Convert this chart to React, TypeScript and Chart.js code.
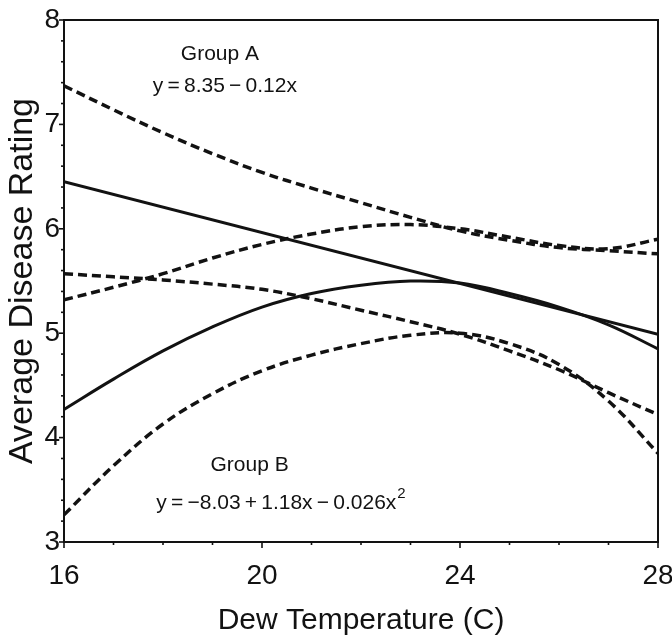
import React, { useEffect, useRef } from "react";
import { Chart, registerables } from "chart.js";

Chart.register(...registerables);

// Dew temperature (C)
const dewTemps = [16, 17, 18, 19, 20, 21, 22, 23, 24, 25, 26, 27, 28];

// Group A: linear fit and confidence band
const groupAFitX = [16, 28];
const groupAFitY = [6.45, 4.99];
const groupAUpper = [7.37, 7.14, 6.92, 6.72, 6.54, 6.39, 6.25, 6.11, 5.98, 5.89, 5.82, 5.79, 5.76];
const groupALower = [5.57, 5.54, 5.51, 5.47, 5.42, 5.33, 5.22, 5.11, 4.99, 4.83, 4.65, 4.43, 4.22];

// Group B: quadratic fit and confidence band
const groupBFit = [4.27, 4.56, 4.83, 5.06, 5.25, 5.38, 5.46, 5.5, 5.48, 5.38, 5.25, 5.08, 4.85];
const groupBUpper = [5.32, 5.44, 5.57, 5.72, 5.85, 5.95, 6.02, 6.04, 6.0, 5.92, 5.84, 5.81, 5.9];
const groupBLower = [3.26, 3.73, 4.13, 4.42, 4.64, 4.79, 4.9, 4.98, 5.0, 4.9, 4.7, 4.35, 3.85];

// Axis labels
const xTickLabels = [16, 20, 24, 28];
const yTickLabels = [3, 4, 5, 6, 7, 8];

const FONT = "'Liberation Sans', Arial, Helvetica, sans-serif";
const INK = "#121212";
const TS = "\u2009";

const isWhole = (v: number) => Math.abs(v - Math.round(v)) < 1e-6;

const framePlugin = {
  id: "frameAndNotes",
  afterDraw(chart: any) {
    const { ctx, chartArea: a, scales } = chart;
    const x = scales.x;
    const y = scales.y;
    ctx.save();
    ctx.strokeStyle = INK;
    ctx.lineWidth = 2;
    ctx.strokeRect(a.left, a.top, a.right - a.left, a.bottom - a.top);

    ctx.lineWidth = 1.6;
    y.ticks.forEach((t: any) => {
      const py = y.getPixelForValue(t.value);
      const major = yTickLabels.some((v) => Math.abs(v - t.value) < 1e-6);
      ctx.beginPath();
      ctx.moveTo(a.left, py);
      ctx.lineTo(a.left - (major ? 5 : 3), py);
      ctx.stroke();
    });
    x.ticks.forEach((t: any) => {
      const px = x.getPixelForValue(t.value);
      const major = xTickLabels.some((v) => Math.abs(v - t.value) < 1e-6);
      ctx.beginPath();
      ctx.moveTo(px, a.bottom);
      ctx.lineTo(px, a.bottom + (major ? 6 : 3));
      ctx.stroke();
    });

    // Annotations
    ctx.fillStyle = INK;
    ctx.textBaseline = "middle";
    ctx.textAlign = "center";
    ctx.font = `21px ${FONT}`;
    ctx.fillText("Group A", x.getPixelForValue(19.15), y.getPixelForValue(7.67));
    ctx.fillText(`y${TS}=${TS}8.35${TS}\u2212${TS}0.12x`, x.getPixelForValue(19.25), y.getPixelForValue(7.37));
    ctx.fillText("Group B", x.getPixelForValue(19.75), y.getPixelForValue(3.74));

    const eq = `y${TS}=${TS}\u22128.03${TS}+${TS}1.18x${TS}\u2212${TS}0.026x`;
    const w = ctx.measureText(eq).width;
    const cx = x.getPixelForValue(20.4);
    const cy = y.getPixelForValue(3.37);
    ctx.textAlign = "left";
    const left = cx - (w + 11) / 2;
    ctx.fillText(eq, left, cy);
    ctx.font = `15px ${FONT}`;
    ctx.fillText("2", left + w + 1, cy - 10);
    ctx.restore();
  },
};

const toPoints = (xs: number[], ys: number[]) => xs.map((v, i) => ({ x: v, y: ys[i] }));

export default function App() {
  const canvasRef = useRef<HTMLCanvasElement | null>(null);

  useEffect(() => {
    const canvas = canvasRef.current;
    if (!canvas) return;

    const solid = { borderColor: INK, borderWidth: 3, pointRadius: 0, tension: 0.4, fill: false };
    const dashed = { ...solid, borderWidth: 3.5, borderDash: [9, 5] };

    const chart = new Chart(canvas, {
      type: "line",
      data: {
        datasets: [
          { ...solid, label: "Group A fit", data: toPoints(groupAFitX, groupAFitY), tension: 0 },
          { ...dashed, label: "Group A upper", data: toPoints(dewTemps, groupAUpper) },
          { ...dashed, label: "Group A lower", data: toPoints(dewTemps, groupALower) },
          { ...solid, label: "Group B fit", data: toPoints(dewTemps, groupBFit) },
          { ...dashed, label: "Group B upper", data: toPoints(dewTemps, groupBUpper) },
          { ...dashed, label: "Group B lower", data: toPoints(dewTemps, groupBLower) },
        ] as any,
      },
      options: {
        animation: false,
        responsive: false,
        maintainAspectRatio: false,
        layout: { padding: { top: 20, right: 14, left: 0, bottom: 0 } },
        plugins: { legend: { display: false }, tooltip: { enabled: false } },
        scales: {
          x: {
            type: "linear",
            min: 16,
            max: 28,
            grid: { display: false, drawTicks: false },
            border: { display: false },
            ticks: {
              stepSize: 1,
              autoSkip: false,
              maxRotation: 0,
              padding: 17,
              color: INK,
              font: { family: FONT, size: 28 },
              callback: (v: any) => (xTickLabels.includes(Number(v)) ? String(v) : ""),
            },
            title: {
              display: true,
              text: "Dew Temperature (C)",
              color: INK,
              font: { family: FONT, size: 30 },
              padding: { top: 0, bottom: 2 },
            },
            afterFit: (s: any) => {
              s.height = 99;
              s.paddingLeft = 0;
              s.paddingRight = 0;
            },
          },
          y: {
            min: 3,
            max: 8,
            grid: { display: false, drawTicks: false },
            border: { display: false },
            ticks: {
              stepSize: 0.2,
              autoSkip: false,
              padding: 4,
              color: INK,
              font: { family: FONT, size: 28 },
              callback: (v: any) => (isWhole(Number(v)) ? String(Math.round(Number(v))) : ""),
            },
            title: {
              display: true,
              text: "Average Disease Rating",
              color: INK,
              font: { family: FONT, size: 34 },
              padding: { top: 2, bottom: 0 },
            },
            afterFit: (s: any) => {
              s.width = 64;
              s.paddingTop = 0;
              s.paddingBottom = 0;
            },
          },
        },
      } as any,
      plugins: [framePlugin],
    });

    return () => chart.destroy();
  }, []);

  return (
    <div style={{ position: "absolute", left: 0, top: 0, width: 672, height: 641, background: "#fff" }}>
      <canvas ref={canvasRef} width={672} height={641} style={{ display: "block" }} />
    </div>
  );
}
